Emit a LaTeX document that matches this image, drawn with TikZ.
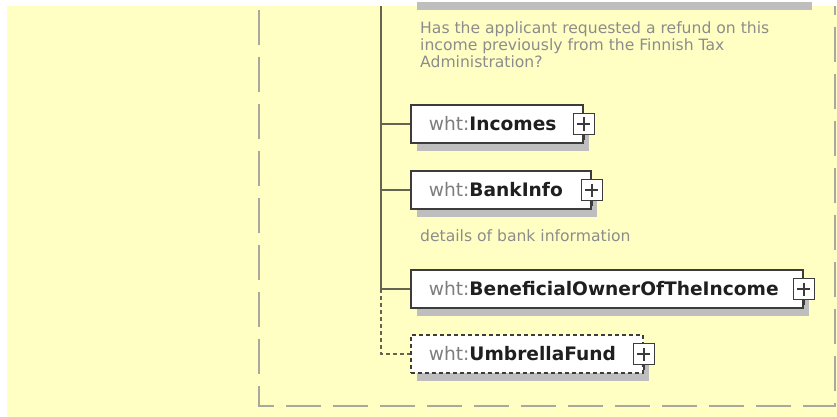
\documentclass[tikz,border=0pt]{standalone}
\usepackage{fontspec}
\setmainfont{DejaVu Sans}
\usetikzlibrary{shadows}
\definecolor{bgyellow}{RGB}{255,255,196}
\definecolor{trunkcol}{RGB}{100,100,80}
\definecolor{framegray}{RGB}{168,168,158}
\definecolor{shadowgray}{RGB}{190,190,190}
\definecolor{descgray}{RGB}{140,140,140}
\definecolor{prefixgray}{RGB}{125,125,125}
\definecolor{boxline}{RGB}{60,60,60}
\newcommand{\elname}[1]{\mbox{\textcolor{prefixgray}{wht:}\textbf{\textcolor{black!88}{#1}}}}

\begin{document}
\begin{tikzpicture}[x=1pt,y=-1pt,
    frame/.style={draw=framegray, line width=2.5pt, dash pattern=on 35pt off 12pt},
    trunk/.style={draw=trunkcol, line width=2pt},
    opttrunk/.style={trunk, dash pattern=on 4pt off 3pt},
    elem/.style={draw=boxline, line width=1.8pt, fill=white, anchor=west,
      minimum height=38pt, inner xsep=18pt, inner ysep=0pt, align=left,
      font=\fontsize{18.6}{21}\selectfont,
      drop shadow={shadow xshift=6pt, shadow yshift=-8pt, fill=shadowgray, opacity=1}},
    optelem/.style={elem, dash pattern=on 4pt off 3pt},
    plusbox/.style={draw=boxline, line width=1.6pt, fill=white, minimum size=21pt, inner sep=0pt,
      path picture={\draw[line width=1.6pt, boxline]
        ([yshift=-4pt]path picture bounding box.north) -- ([yshift=4pt]path picture bounding box.south)
        ([xshift=4pt]path picture bounding box.west) -- ([xshift=-4pt]path picture bounding box.east);}},
    desc/.style={text=descgray, anchor=north west, inner sep=0pt, align=left,
      font=\fontsize{15.6}{17}\selectfont}]
  \useasboundingbox (0,0) rectangle (837,417);
  \fill[white] (0,0) rectangle (837,417);
  \fill[bgyellow] (7,6) rectangle (837,417);
  \fill[shadowgray] (417,2) rectangle (812,10);

  \coordinate (frametop) at (259,10);
  \coordinate (framecorner) at (259,406);
  \coordinate (frameright) at (835,406);
  \coordinate (frameend) at (835,6);
  \draw[frame] (frametop) -- (framecorner) -- (frameright) -- (frameend);

  \node[desc] (refunddesc) at (420,21) {Has the applicant requested a refund on this\\income previously from the Finnish Tax\\Administration?};

  \node[elem, text width=136pt] (incomes) at (410,124) {\elname{Incomes}};
  \node[elem, text width=144pt] (bankinfo) at (410,190) {\elname{BankInfo}};
  \node[desc] (bankdesc) at (420,229) {details of bank information};
  \node[elem, text width=356pt] (owner) at (410,289) {\elname{BeneficialOwnerOfTheIncome}};
  \node[optelem, text width=196pt] (umbrella) at (410,354) {\elname{UmbrellaFund}};

  \node[plusbox] (incomesplus) at (incomes.east) {};
  \node[plusbox] (bankinfoplus) at (bankinfo.east) {};
  \node[plusbox] (ownerplus) at (owner.east) {};
  \node[plusbox] (umbrellaplus) at (umbrella.east) {};
  \foreach \p in {incomesplus,bankinfoplus,ownerplus,umbrellaplus}
    \draw[boxline, line width=1.5pt] (\p.south) -- ++(0,5);

  \coordinate (trunktop) at (381,6);
  \coordinate (split) at (381,289);
  \draw[trunk] (trunktop) -- (split);
  \draw[trunk] (trunktop |- incomes.west) -- (incomes.west);
  \draw[trunk] (trunktop |- bankinfo.west) -- (bankinfo.west);
  \draw[trunk] (split) -- (owner.west);
  \draw[opttrunk] (split) |- (umbrella.west);
\end{tikzpicture}
\end{document}
